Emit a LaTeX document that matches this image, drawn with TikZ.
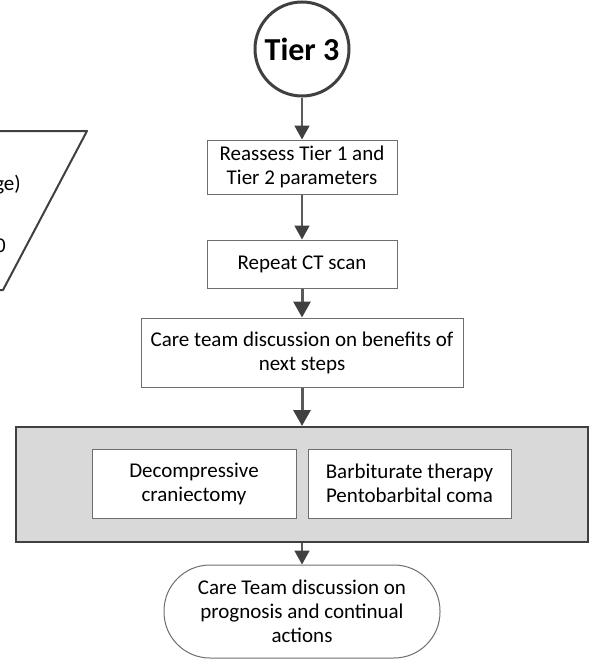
\documentclass[tikz,border=0pt]{standalone}
\usepackage{fontspec}
\setmainfont{Carlito}
\usetikzlibrary{arrows.meta}

\definecolor{edgegray}{HTML}{6E6E6E}
\definecolor{darkedge}{HTML}{404040}
\definecolor{linkgray}{HTML}{5A5A5A}
\definecolor{panelfill}{HTML}{D9D9D9}

\begin{document}
\begin{tikzpicture}[x=1pt, y=-1pt, font=\fontsize{21}{24}\selectfont]
\tikzset{stepbox/.style={draw=edgegray, line width=1pt, fill=white, align=center,
    inner sep=2pt},
  thinlink/.style={draw=linkgray, line width=1.7pt,
    -{Triangle[length=14pt, width=15pt, color=darkedge]}},
  thicklink/.style={draw=linkgray, line width=3pt,
    -{Triangle[length=16pt, width=17pt, color=darkedge]}}}

\useasboundingbox (0,0) rectangle (589,661);
\clip (0,0) rectangle (589,661);

% left shape, cut off by the page edge
\draw[darkedge, line width=2pt, line join=round] (-40,131) -- (87,131) -- (3,290) -- (-40,290);
\node[anchor=base east, inner sep=0pt] (rangeend) at (21,190) {ge)};
\node[anchor=base east, inner sep=0pt] (valueend) at (6,252) {0};

\node[draw=darkedge, line width=3pt, circle, minimum size=94pt, inner sep=0pt,
    font=\fontsize{32}{38}\selectfont\bfseries] (tier) at (302,49) {Tier 3};

\node[stepbox, minimum width=190pt, minimum height=54pt] (reassess) at (302,167)
    {Reassess Tier 1 and\\Tier 2 parameters};
\node[stepbox, minimum width=190pt, minimum height=48pt] (ctscan) at (302,264)
    {Repeat CT scan};
\node[stepbox, minimum width=322pt, minimum height=69pt] (discuss) at (302,352.5)
    {Care team discussion on benefits of\\next steps};

% options panel
\node[draw=darkedge, line width=2pt, fill=panelfill, minimum width=572pt,
    minimum height=115pt] (options) at (302,484.5) {};
\node[stepbox, minimum width=204pt, minimum height=69pt] (decomp) at (194,483.5)
    {Decompressive\\craniectomy};
\node[stepbox, minimum width=203pt, minimum height=69pt] (barb) at (409.5,483.5)
    {Barbiturate therapy\\Pentobarbital coma};

\node[stepbox, rounded corners=46pt, minimum width=276pt, minimum height=93pt]
    (prognosis) at (302,611.5) {Care Team discussion on\\prognosis and continual\\actions};

\draw[thinlink] (tier) -- (reassess);
\draw[thinlink] (reassess) -- (ctscan);
\draw[thicklink] (ctscan) -- (discuss);
\draw[thicklink] (discuss) -- (options);
\draw[thinlink] (options) -- (prognosis);

\end{tikzpicture}
\end{document}
